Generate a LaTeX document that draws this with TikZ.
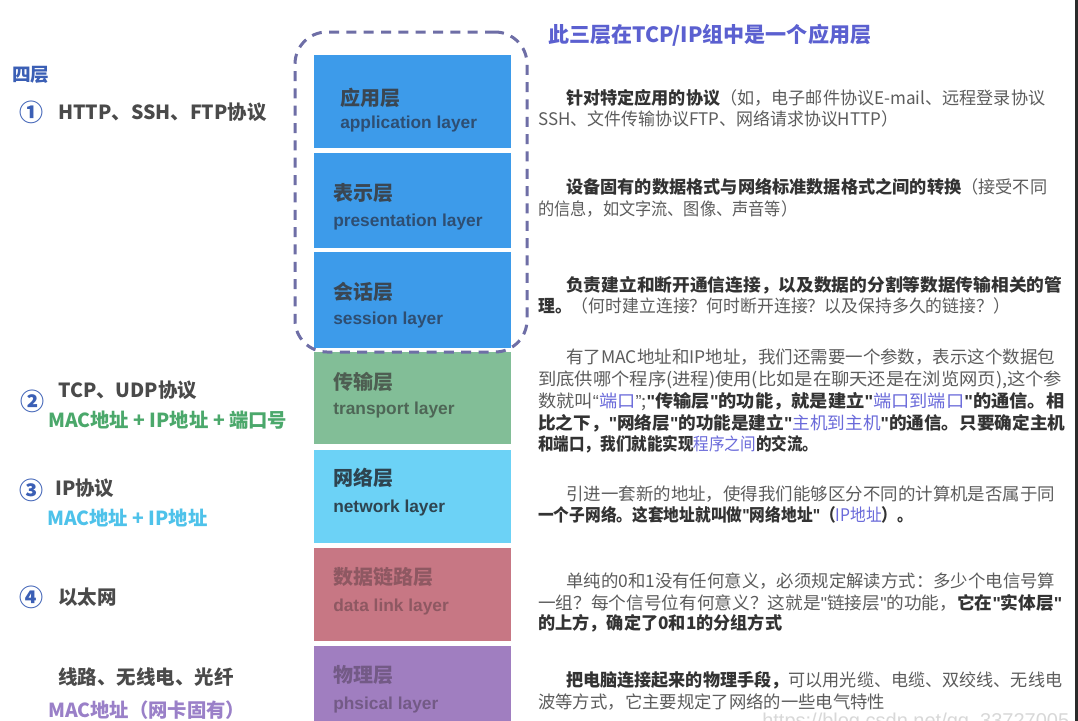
\documentclass[tikz,border=0pt]{standalone}
\usepackage{fontspec}
\setmainfont{Noto Sans CJK SC}
\newfontfamily\lat{Liberation Sans}
\definecolor{lblue}{HTML}{3D9BEA}
\definecolor{lgreen}{HTML}{82BE97}
\definecolor{lcyan}{HTML}{6CD2F6}
\definecolor{lrose}{HTML}{C77784}
\definecolor{lpurple}{HTML}{A07EC0}
\definecolor{dashc}{HTML}{6E6EA6}
\definecolor{hl}{HTML}{6A6ADA}
\definecolor{txt}{HTML}{5C5C5C}
\definecolor{btxt}{HTML}{333333}
\definecolor{numc}{HTML}{3B5FB5}
\definecolor{ttlblue}{HTML}{5B60D0}
\definecolor{lab}{HTML}{4A4A4A}
\definecolor{mgreen}{HTML}{4BA86B}
\definecolor{mcyan}{HTML}{4EC2EA}
\definecolor{mpurple}{HTML}{9A80C8}
\definecolor{tblue}{HTML}{3A4652}
\definecolor{sblue}{HTML}{2E4E72}
\definecolor{tgreen}{HTML}{4E5E52}
\definecolor{sgreen}{HTML}{4E6656}
\definecolor{tcyan}{HTML}{2E4450}
\definecolor{trose}{HTML}{8E5862}
\definecolor{tpurp}{HTML}{735A86}
\definecolor{wmc}{HTML}{D8D8D8}
\definecolor{edgec}{HTML}{2A2A2A}
\tikzset{
  layerbox/.style={rectangle, draw=none, minimum width=147.75pt, inner sep=0pt},
  ltitle/.style={anchor=base west, inner sep=0pt, font=\fontsize{15}{18}\selectfont\bfseries},
  lsub/.style={anchor=base west, inner sep=0pt, font=\lat\fontsize{13}{16}\selectfont\bfseries},
  para/.style={anchor=base west, inner sep=0pt, text=txt, font=\fontsize{13}{16}\selectfont},
  leftlab/.style={anchor=base west, inner sep=0pt, text=lab, font=\fontsize{14.6}{18}\selectfont\bfseries},
  addr/.style={anchor=base west, inner sep=0pt, font=\fontsize{14.5}{18}\selectfont\bfseries},
  num/.style={anchor=center, inner sep=0pt, text=numc, font=\fontsize{18}{20}\selectfont\bfseries},
  dashbox/.style={draw=dashc, line width=2.25pt, dash pattern=on 7.5pt off 5.5pt, rounded corners=24pt, minimum width=174pt, minimum height=240pt, inner sep=0pt}
}
\newcommand{\hb}[1]{{\bfseries\color{btxt}#1}}
\newcommand{\hh}[1]{{\color{hl}#1}}
\newcommand{\sq}{{\lat"}}
\newcommand{\myLq}{{\lat “}}
\newcommand{\myRq}{{\lat ”}}
\newcommand{\fitw}[2]{\resizebox{#1pt}{\height}{#2}}
\begin{document}
\begin{tikzpicture}[x=0.75pt,y=-0.75pt]
\useasboundingbox (0,0) rectangle (1078,721);
\fill[white] (0,0) rectangle (1078,721);

% layer boxes
\node[layerbox, fill=lblue, minimum height=69.75pt] (app) at (412.5,101.5) {};
\node[layerbox, fill=lblue, minimum height=71.25pt] (pres) at (412.5,200.5) {};
\node[layerbox, fill=lblue, minimum height=72pt] (sess) at (412.5,300) {};
\node[layerbox, fill=lgreen, minimum height=69pt] (trans) at (412.5,398) {};
\node[layerbox, fill=lcyan, minimum height=69.75pt] (net) at (412.5,496.5) {};
\node[layerbox, fill=lrose, minimum height=69.75pt] (link) at (412.5,594.5) {};
\node[layerbox, fill=lpurple, minimum height=70.5pt] (phys) at (412.5,693) {};

% layer labels
\node[ltitle, text=tblue] (appt) at (340,105) {应用层};
\node[lsub, text=sblue] (apps) at (340,128) {application layer};
\node[ltitle, text=tblue] (prest) at (333,200) {表示层};
\node[lsub, text=sblue] (press) at (333,226) {presentation layer};
\node[ltitle, text=tblue] (sesst) at (333,299) {会话层};
\node[lsub, text=sblue] (sesss) at (333,324) {session layer};
\node[ltitle, text=tgreen] (transt) at (333,389) {传输层};
\node[lsub, text=sgreen] (transs) at (333,414) {transport layer};
\node[ltitle, text=tcyan] (nett) at (333,485) {网络层};
\node[lsub, text=tcyan] (nets) at (333,512) {network layer};
\node[ltitle, text=trose] (linkt) at (333,584) {数据链路层};
\node[lsub, text=trose] (links) at (333,611) {data link layer};
\node[ltitle, text=tpurp] (physt) at (333,682) {物理层};
\node[lsub, text=tpurp] (physs) at (333,709) {phsical layer};

% dashed group
\node[dashbox] (grp) at (411,192) {};
\node[anchor=base west, inner sep=0pt, text=ttlblue, font=\fontsize{15.8}{18}\selectfont\bfseries] (grpt) at (548,42) {此三层在TCP/IP组中是一个应用层};

% left labels
\node[anchor=base west, inner sep=0pt, text=numc, font=\fontsize{14}{18}\selectfont\bfseries] (four) at (12,81) {四层};
\node[num] (n1) at (31,112) {①};
\node[leftlab] (l1) at (58,119.5) {HTTP、SSH、FTP协议};
\node[num] (n2) at (32,401) {②};
\node[leftlab] (l2) at (58,397.5) {TCP、UDP协议};
\node[addr, text=mgreen] (a2) at (48,427) {MAC地址 + IP地址 + 端口号};
\node[num] (n3) at (31,490) {③};
\node[leftlab] (l3) at (55,495.5) {IP协议};
\node[addr, text=mcyan] (a3) at (47,525) {MAC地址 + IP地址};
\node[num] (n4) at (31,597) {④};
\node[leftlab] (l4) at (58,604.5) {以太网};
\node[leftlab] (l5) at (58,684.5) {线路、无线电、光纤};
\node[addr, text=mpurple] (a5) at (48,717) {MAC地址（网卡固有）};

% right descriptions
\node[para] (d1a) at (566,104) {\fitw{359.25}{\hb{针对特定应用的协议}（如，电子邮件协议E-mail、远程登录协议}};
\node[para] (d1b) at (538,125) {\fitw{270}{SSH、文件传输协议FTP、网络请求协议HTTP）}};
\node[para] (d2a) at (566,193) {\fitw{360.75}{\hb{设备固有的数据格式与网络标准数据格式之间的转换}（接受不同}};
\node[para] (d2b) at (538,215) {\fitw{194.25}{的信息，如文字流、图像、声音等）}};
\node[para] (d3a) at (566,291) {\fitw{372}{\hb{负责建立和断开通信连接，以及数据的分割等数据传输相关的管}}};
\node[para] (d3b) at (538,312) {\fitw{354}{\hb{理。}（何时建立连接？何时断开连接？以及保持多久的链接？）}};
\node[para] (d4a) at (566,363) {\fitw{366.75}{有了MAC地址和IP地址，我们还需要一个参数，表示这个数据包}};
\node[para] (d4b) at (538,385) {\fitw{393}{到底供哪个程序(进程)使用(比如是在聊天还是在浏览网页),这个参}};
\node[para] (d4c) at (538,407) {\fitw{394.5}{数就叫\myLq\hh{端口}\myRq;\hb{\sq 传输层\sq 的功能，就是建立\sq}\hh{端口到端口}\hb{\sq 的通信。相}}};
\node[para] (d4d) at (538,429) {\fitw{395.25}{\hb{比之下，\sq 网络层\sq 的功能是建立\sq}\hh{主机到主机}\hb{\sq 的通信。只要确定主机}}};
\node[para] (d4e) at (538,450) {\fitw{210}{\hb{和端口，我们就能实现}\hh{程序之间}\hb{的交流。}}};
\node[para] (d5a) at (566,500) {\fitw{366.75}{引进一套新的地址，使得我们能够区分不同的计算机是否属于同}};
\node[para] (d5b) at (538,521) {\fitw{281.25}{\hb{一个子网络。这套地址就叫做\sq 网络地址\sq（}\hh{IP地址}\hb{）。}}};
\node[para] (d6a) at (566,587) {\fitw{366.75}{单纯的0和1没有任何意义，必须规定解读方式：多少个电信号算}};
\node[para] (d6b) at (538,609) {\fitw{393}{一组？每个信号位有何意义？这就是\sq 链接层\sq 的功能，\hb{它在\sq 实体层\sq}}};
\node[para] (d6c) at (538,629) {\fitw{183}{\hb{的上方，确定了0和1的分组方式}}};
\node[para] (d7a) at (566,686) {\fitw{372}{\hb{把电脑连接起来的物理手段，}可以用光缆、电缆、双绞线、无线电}};
\node[para] (d7b) at (538,708) {\fitw{260.25}{波等方式，它主要规定了网络的一些电气特性}};

% watermark
\node[anchor=base west, inner sep=0pt, text=wmc, font=\lat\fontsize{15}{18}\selectfont] (wm) at (762,727) {https://blog.csdn.net/qq\_33727005};

% right edge
\coordinate (rt) at (1076,0);
\coordinate (rb) at (1076,721);
\draw[edgec, line width=2.25pt] (rt) -- (rb);
\end{tikzpicture}
\end{document}
